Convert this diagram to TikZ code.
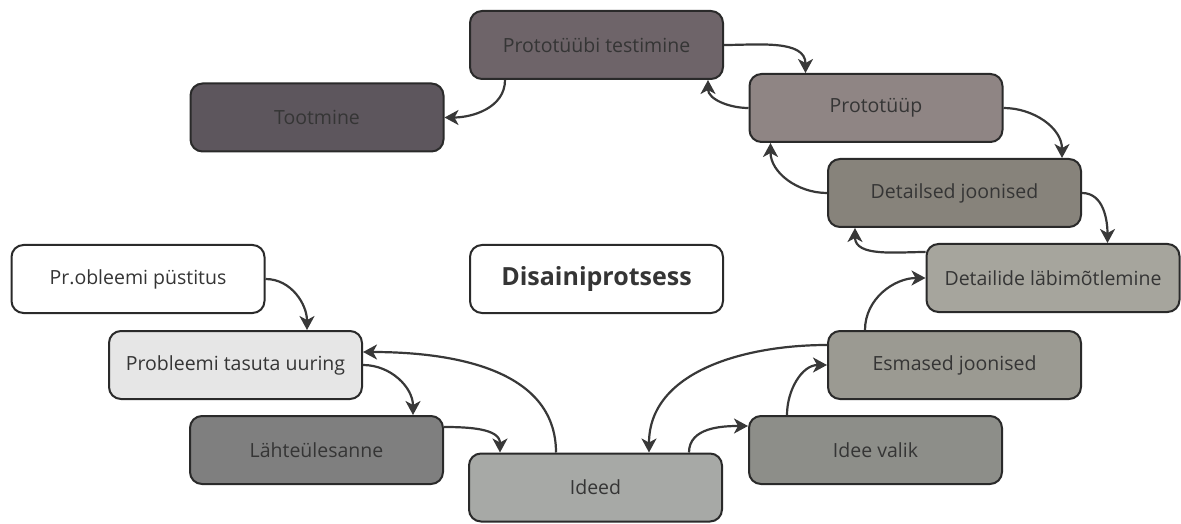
\documentclass[tikz,border=0pt]{standalone}
\usepackage{fontspec}
\setmainfont{Open Sans}
\usetikzlibrary{arrows.meta}
\definecolor{edge}{HTML}{2A2A2A}
\definecolor{txt}{HTML}{353535}
\definecolor{arr}{HTML}{383838}
\definecolor{cPtest}{HTML}{6E6469}
\definecolor{cToot}{HTML}{5D565D}
\definecolor{cProto}{HTML}{8F8584}
\definecolor{cDetj}{HTML}{87837B}
\definecolor{cDetl}{HTML}{A6A59D}
\definecolor{cEsm}{HTML}{9B9A92}
\definecolor{cIval}{HTML}{8D8E89}
\definecolor{cIdeed}{HTML}{A7A9A6}
\definecolor{cPtu}{HTML}{E6E6E6}
\definecolor{cLahte}{HTML}{7F7F7F}
\tikzset{
  box/.style={draw=edge, line width=2pt, rounded corners=12pt,
    minimum width=253pt, minimum height=68pt, inner sep=0pt,
    text=txt, font=\fontsize{19.5}{23}\selectfont},
  conn/.style={draw=arr, line width=2.2pt,
    -{Stealth[length=14pt,width=15pt,inset=4pt]}}
}
\begin{document}
\begin{tikzpicture}[x=1pt,y=1pt]
\useasboundingbox (0,0) rectangle (1181,523);
\node[box, fill=cPtest] (ptest) at (596.5,478) {Prototüübi testimine};
\node[box, fill=cToot]  (toot)  at (317,405.5) {Tootmine};
\node[box, fill=cProto] (proto) at (876,415) {Prototüüp};
\node[box, fill=cDetj]  (detj)  at (954.5,330) {Detailsed joonised};
\node[box, fill=cDetl]  (detl)  at (1053,245) {Detailide läbimõtlemine};
\node[box, fill=cEsm]   (esm)   at (954.5,158) {Esmased joonised};
\node[box, fill=cIval]  (ival)  at (875.5,73) {Idee valik};
\node[box, fill=cIdeed] (ideed) at (595.5,35.5) {Ideed};
\node[box, fill=white]  (pp)    at (138,244) {Pr.obleemi püstitus};
\node[box, fill=cPtu]   (ptu)   at (235.5,158) {Probleemi tasuta uuring};
\node[box, fill=cLahte] (lahte) at (316.5,73) {Lähteülesanne};
\node[box, fill=white, font=\fontsize{25}{29}\bfseries] (title) at (596.5,244) {Disainiprotsess};

\draw[conn] (pp.east) to[out=0,in=90] ([xshift=199pt]ptu.north west);
\draw[conn] (ptu.east) to[out=0,in=90] ([xshift=224pt]lahte.north west);
\draw[conn] ([yshift=-12pt]lahte.north east) to[out=0,in=90] ([xshift=32pt]ideed.north west);
\draw[conn] ([xshift=88pt]ideed.north west) to[out=90,in=0] ([yshift=13pt]ptu.east);
\draw[conn] ([yshift=20pt]esm.west) to[out=180,in=90] ([xshift=181pt]ideed.north west);
\draw[conn] ([xshift=221pt]ideed.north west) to[out=90,in=180] ([yshift=-11pt]ival.north west);
\draw[conn] ([xshift=39pt]ival.north west) to[out=90,in=180] (esm.west);
\draw[conn] ([xshift=38pt]esm.north west) to[out=90,in=180] (detl.west);
\draw[conn] ([yshift=-9pt]detl.north west) to[out=180,in=-90] ([xshift=28pt]detj.south west);
\draw[conn] (detj.east) to[out=0,in=90] ([xshift=182pt]detl.north west);
\draw[conn] (proto.east) to[out=0,in=90] ([xshift=235pt]detj.north west);
\draw[conn] (detj.west) to[out=180,in=-90] ([xshift=22pt]proto.south west);
\draw[conn] (proto.west) to[out=180,in=-90] ([xshift=-16pt]ptest.south east);
\draw[conn] (ptest.east) to[out=0,in=90] ([xshift=57pt]proto.north west);
\draw[conn] ([xshift=36pt]ptest.south west) to[out=-90,in=0] (toot.east);
\end{tikzpicture}
\end{document}
